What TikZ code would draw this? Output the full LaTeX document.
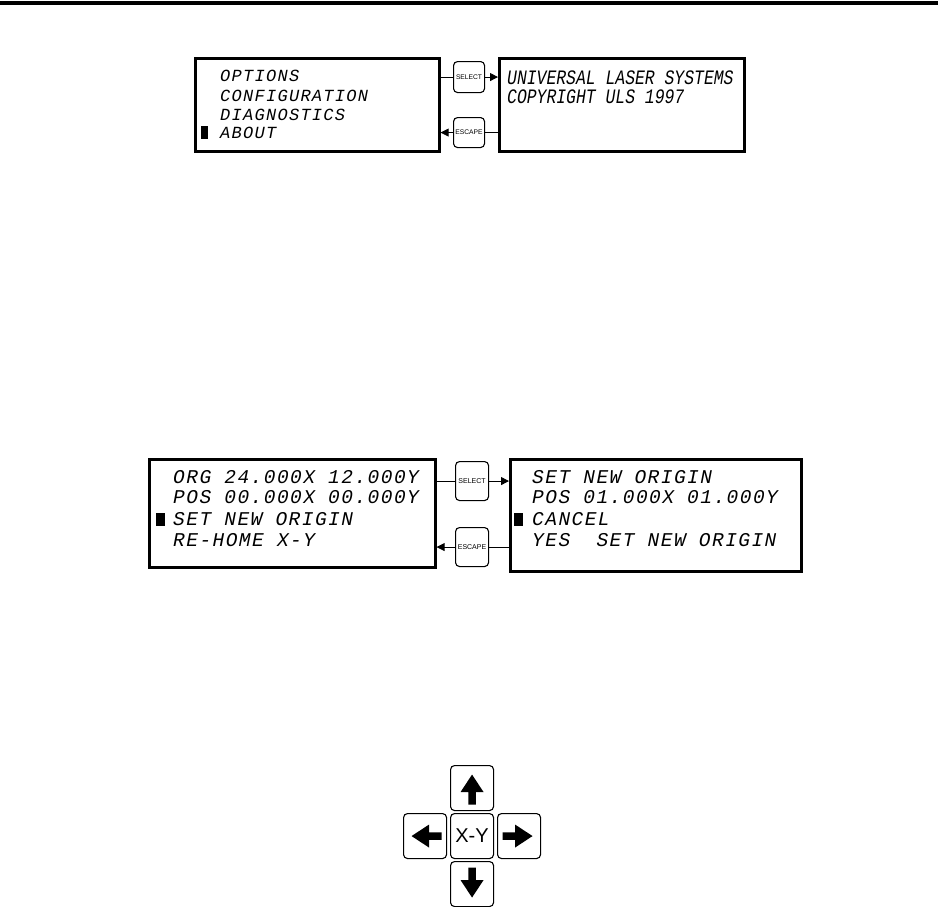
\documentclass[tikz,border=0pt]{standalone}
\usepackage{fontspec}
\setmainfont{Liberation Sans}
\newfontfamily\lcdA{Liberation Mono}[LetterSpace=7.5]
\newfontfamily\lcdB{Liberation Mono}[FakeStretch=0.8]
\newfontfamily\lcdC{Liberation Mono}[LetterSpace=7.5]
\usetikzlibrary{arrows.meta}
\begin{document}
\begin{tikzpicture}[x=1pt,y=-1pt,
  panel/.style={draw,line width=2.6pt,anchor=north west,inner sep=0pt},
  btn/.style={draw,line width=1.1pt,rounded corners=4pt,anchor=north west,inner sep=0pt,font=\fontsize{7}{7}\selectfont},
  btnsmall/.style={btn,font=\fontsize{6.7}{6.7}\selectfont},
  key/.style={draw,line width=1.1pt,rounded corners=4pt,anchor=north west,inner sep=0pt,minimum width=43pt,minimum height=45pt},
  lcdtop/.style={anchor=west,inner sep=0pt,font=\lcdA\itshape\fontsize{17}{17}\selectfont},
  lcdtopb/.style={anchor=west,inner sep=0pt,font=\lcdB\itshape\fontsize{20.5}{20.5}\selectfont},
  lcdmid/.style={anchor=west,inner sep=0pt,font=\lcdC\itshape\fontsize{19.5}{19.5}\selectfont},
  cur/.style={fill,inner sep=0pt,anchor=north west},
  conn/.style={line width=0.8pt},
  arr/.style={line width=0.8pt,-{Triangle[length=8pt,width=8pt]}},
  barrow/.pic={\fill (0,-13.5)--(11.5,4)--(3.8,4)--(3.8,16.5)--(-3.8,16.5)--(-3.8,4)--(-11.5,4)--cycle;}
]
\useasboundingbox (0,0) rectangle (938,906);
% top rule
\fill (0,1) rectangle (938,5);

% ---- top row ----
\node[panel,minimum width=244pt,minimum height=93pt] (p1) at (194,57) {};
\node[panel,minimum width=245pt,minimum height=93pt] (p2) at (498,57) {};
\node[btnsmall,minimum width=31pt,minimum height=31pt] (s1) at (453,61) {SELECT};
\node[btnsmall,minimum width=31pt,minimum height=30pt] (e1) at (453,117) {ESCAPE};
\draw[conn] (p1.east |- s1.west) -- (s1.west);
\draw[arr] (s1.east) -- (p2.west |- s1.east);
\draw[conn] (p2.west |- e1.east) -- (e1.east);
\draw[arr] (e1.west) -- (p1.east |- e1.west);

\node[lcdtop] (t1) at (220,76) {OPTIONS};
\node[lcdtop] (t2) at (220,96) {CONFIGURATION};
\node[lcdtop] (t3) at (220,115) {DIAGNOSTICS};
\node[lcdtop] (t4) at (220,132.5) {ABOUT};
\node[cur,minimum width=6.5pt,minimum height=13pt] (c1) at (201,126) {};
\node[lcdtopb] (u1) at (507,77.5) {UNIVERSAL LASER SYSTEMS};
\node[lcdtopb] (u2) at (507,97) {COPYRIGHT ULS 1997};

% ---- middle row ----
\node[panel,minimum width=286pt,minimum height=108pt] (p3) at (148,458) {};
\node[panel,minimum width=291pt,minimum height=112pt] (p4) at (509,458) {};
\node[btn,minimum width=33pt,minimum height=39pt] (s2) at (455,461) {SELECT};
\node[btn,minimum width=33pt,minimum height=39pt] (e2) at (455,527) {ESCAPE};
\draw[conn] (p3.east |- s2.west) -- (s2.west);
\draw[arr] (s2.east) -- (p4.west |- s2.east);
\draw[conn] (p4.west |- e2.east) -- (e2.east);
\draw[arr] (e2.west) -- (p3.east |- e2.west);

\node[lcdmid] (m1) at (173,477) {ORG 24.000X 12.000Y};
\node[lcdmid] (m2) at (173,497.5) {POS 00.000X 00.000Y};
\node[lcdmid] (m3) at (173,519) {SET NEW ORIGIN};
\node[lcdmid] (m4) at (173,540) {RE-HOME X-Y};
\node[cur,minimum width=8.5pt,minimum height=13.5pt] (c2) at (156,512.5) {};

\node[lcdmid] (n1) at (532,477) {SET NEW ORIGIN};
\node[lcdmid] (n2) at (532,497.5) {POS 01.000X 01.000Y};
\node[lcdmid] (n3) at (532,519) {CANCEL};
\node[lcdmid] (n4) at (532,540) {YES\ \ SET NEW ORIGIN};
\node[cur,minimum width=8.5pt,minimum height=13.5pt] (c3) at (514,512.5) {};

% ---- keypad ----
\node[key] (kc) at (450,813) {\fontsize{20}{20}\selectfont X-Y};
\node[key] (ku) at (450,765) {};
\node[key] (kd) at (450,861) {};
\node[key] (kl) at (403,813) {};
\node[key] (kr) at (497,813) {};
\pic at (ku.center) {barrow};
\pic[rotate=180] at (kd.center) {barrow};
\pic[rotate=90] at (kl.center) {barrow};
\pic[rotate=-90] at (kr.center) {barrow};
\end{tikzpicture}
\end{document}
